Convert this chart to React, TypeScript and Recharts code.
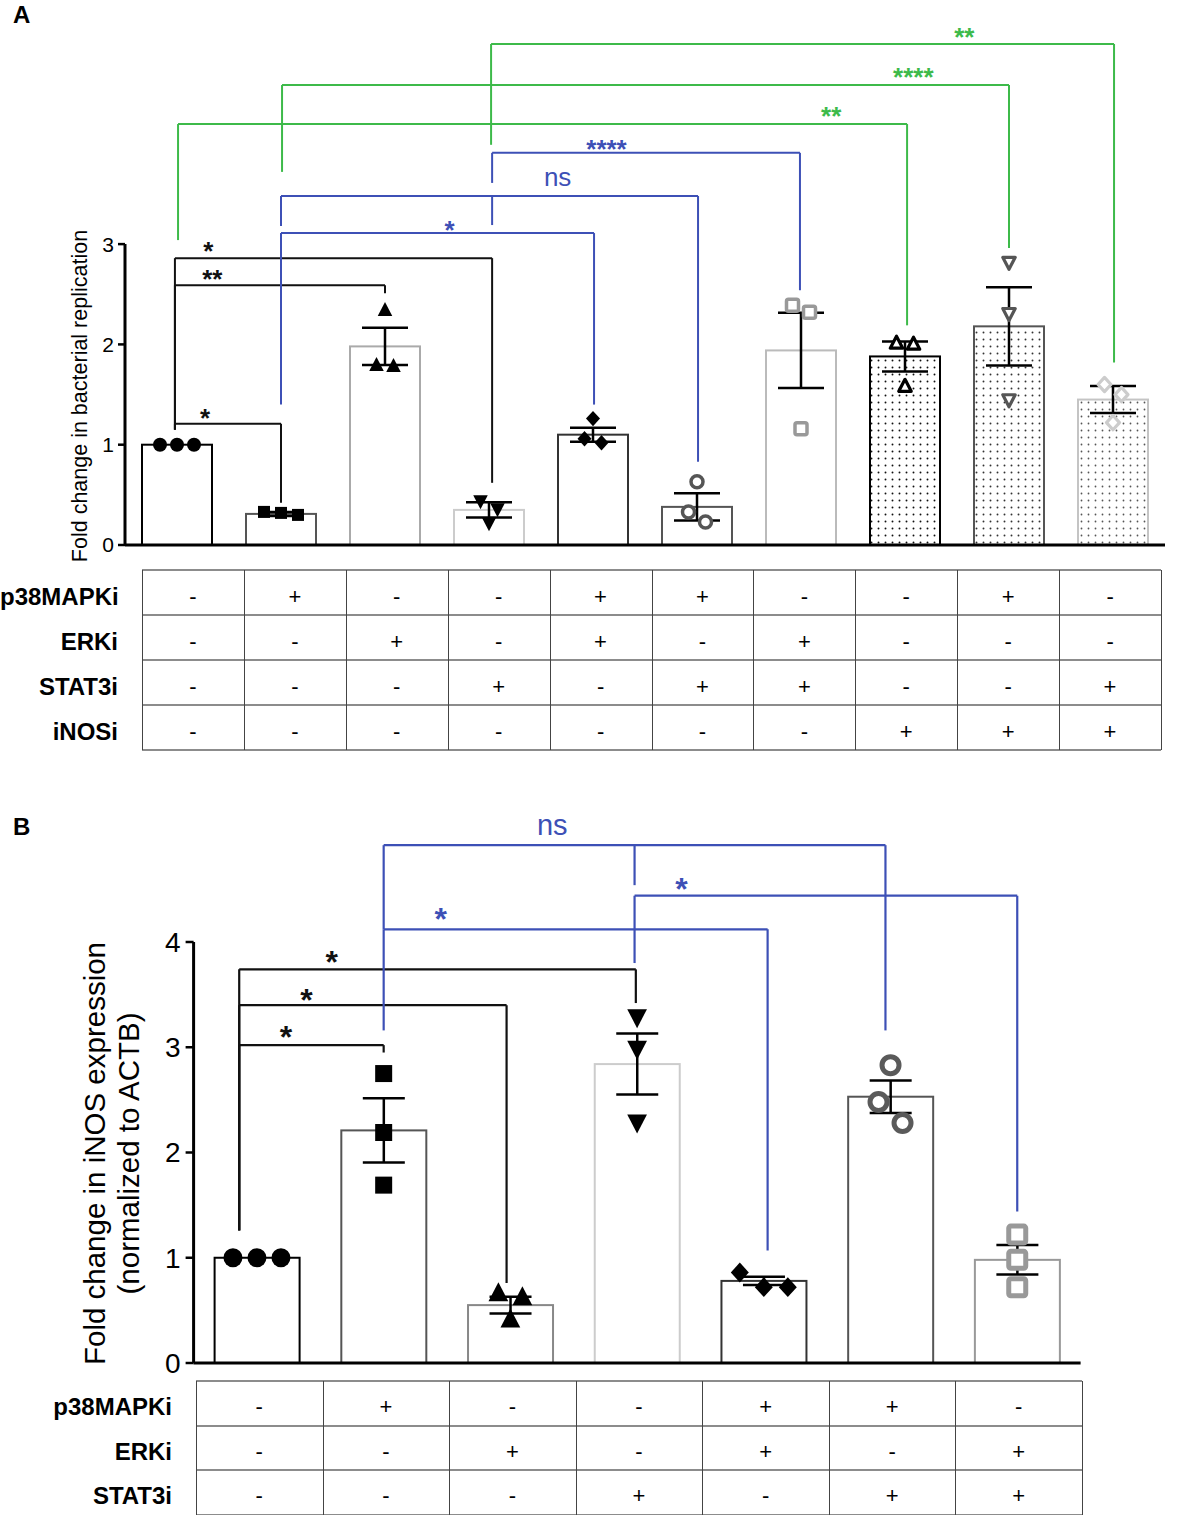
import React from 'react';
import { ComposedChart, Bar, ErrorBar, Scatter, XAxis, YAxis, ReferenceLine, ReferenceDot } from 'recharts';

const FONT = '"Liberation Sans", Arial, Helvetica, sans-serif';
const BLUE = '#3d50b6';
const GREEN = '#3dba4a';
const BLACK = '#111111';

// ---------------- Panel A data ----------------
const groupsA = ['Control', 'p38MAPKi', 'ERKi', 'STAT3i', 'p38MAPKi+ERKi', 'p38MAPKi+STAT3i', 'ERKi+STAT3i', 'iNOSi', 'p38MAPKi+iNOSi', 'STAT3i+iNOSi'];
const meanA = [1.0, 0.31, 1.98, 0.35, 1.10, 0.38, 1.94, 1.88, 2.18, 1.45];
const semA = [0, 0.02, 0.185, 0.075, 0.07, 0.135, 0.375, 0.15, 0.39, 0.135];
const pointsA = [
  [1.0, 1.0, 1.0],
  [0.33, 0.30, 0.32],
  [2.34, 1.78, 1.79],
  [0.44, 0.36, 0.22],
  [1.26, 1.06, 1.02],
  [0.63, 0.33, 0.23],
  [2.39, 2.32, 1.16],
  [2.01, 2.0, 1.58],
  [2.82, 2.31, 1.45],
  [1.60, 1.50, 1.22],
];
const yTicksA = [0, 1, 2, 3];
const treatRowsA = ['p38MAPKi', 'ERKi', 'STAT3i', 'iNOSi'];
const treatA = [
  ['-', '+', '-', '-', '+', '+', '-', '-', '+', '-'],
  ['-', '-', '+', '-', '+', '-', '+', '-', '-', '-'],
  ['-', '-', '-', '+', '-', '+', '+', '-', '-', '+'],
  ['-', '-', '-', '-', '-', '-', '-', '+', '+', '+'],
];
const bracketsA = [
  { x1: -0.02, x2: 1.0, y: 1.21, end1: 1.15, end2: 0.42, color: BLACK, label: '*', lx: 0.27, ly: 1.32 },
  { x1: -0.02, x2: 2.0, y: 2.59, end1: 1.15, end2: 2.51, color: BLACK, label: '**', lx: 0.34, ly: 2.71 },
  { x1: -0.02, x2: 3.03, y: 2.86, end1: 1.15, end2: 0.62, color: BLACK, label: '*', lx: 0.30, ly: 2.99 },
  { x1: 1.0, x2: 4.01, y: 3.11, end1: 1.40, end2: 1.40, color: BLUE, label: '*', lx: 2.62, ly: 3.20 },
  { x1: 1.0, x2: 5.01, y: 3.48, end1: 3.18, end2: 0.83, color: BLUE, label: 'ns', lx: 3.66, ly: 3.65, ticks: [{ x: 3.03, to: 3.19 }] },
  { x1: 3.03, x2: 5.99, y: 3.91, end1: 3.61, end2: 2.54, color: BLUE, label: '****', lx: 4.13, ly: 4.01 },
  { x1: 3.02, x2: 9.01, y: 4.995, end1: 3.99, end2: 1.82, color: GREEN, label: '**', lx: 7.57, ly: 5.12 },
  { x1: 1.01, x2: 8.0, y: 4.586, end1: 3.72, end2: 2.96, color: GREEN, label: '****', lx: 7.08, ly: 4.72 },
  { x1: 0.01, x2: 7.02, y: 4.197, end1: 3.04, end2: 2.19, color: GREEN, label: '**', lx: 6.29, ly: 4.34 },
];

// ---------------- Panel B data ----------------
const groupsB = ['Control', 'p38MAPKi', 'ERKi', 'STAT3i', 'p38MAPKi+ERKi', 'p38MAPKi+STAT3i', 'ERKi+STAT3i'];
const meanB = [1.0, 2.21, 0.55, 2.84, 0.78, 2.53, 0.98];
const semB = [0, 0.305, 0.08, 0.29, 0.04, 0.155, 0.14];
const pointsB = [
  [1.0, 1.0, 1.0],
  [2.75, 2.19, 1.69],
  [0.66, 0.62, 0.41],
  [3.29, 2.99, 2.29],
  [0.86, 0.72, 0.72],
  [2.83, 2.48, 2.28],
  [1.22, 0.98, 0.72],
];
const yTicksB = [0, 1, 2, 3, 4];
const treatRowsB = ['p38MAPKi', 'ERKi', 'STAT3i'];
const treatB = [
  ['-', '+', '-', '-', '+', '+', '-'],
  ['-', '-', '+', '-', '+', '-', '+'],
  ['-', '-', '-', '+', '-', '+', '+'],
];
const bracketsB = [
  { x1: -0.14, x2: 1.0, y: 3.02, end1: 1.26, end2: 2.95, color: BLACK, label: '*', lx: 0.23, ly: 3.17 },
  { x1: -0.14, x2: 1.97, y: 3.40, end1: 1.26, end2: 0.76, color: BLACK, label: '*', lx: 0.39, ly: 3.52 },
  { x1: -0.14, x2: 2.99, y: 3.74, end1: 1.26, end2: 3.42, color: BLACK, label: '*', lx: 0.59, ly: 3.88 },
  { x1: 1.0, x2: 4.03, y: 4.12, end1: 3.16, end2: 1.07, color: BLUE, label: '*', lx: 1.45, ly: 4.29 },
  { x1: 1.0, x2: 4.96, y: 4.92, end1: 4.12, end2: 3.16, color: BLUE, label: 'ns', lx: 2.33, ly: 5.09, ticks: [{ x: 2.98, to: 4.54 }] },
  { x1: 2.98, x2: 6.0, y: 4.44, end1: 3.80, end2: 1.44, color: BLUE, label: '*', lx: 3.35, ly: 4.57 },
];

// ---------------- styles ----------------
const barStrokeA = ['#000', '#555', '#aaa', '#ccc', '#333', '#555', '#bbb', '#000', '#555', '#c4c4c4'];
const barFillA = ['#fff', '#fff', '#fff', '#fff', '#fff', '#fff', '#fff', 'url(#dotsK)', 'url(#dotsD)', 'url(#dotsL)'];
const markersA = [
  { kind: 'circle', hollow: false, color: '#000', size: 14, sw: 0 },
  { kind: 'square', hollow: false, color: '#000', size: 12, sw: 0 },
  { kind: 'up', hollow: false, color: '#000', size: 14, sw: 0 },
  { kind: 'down', hollow: false, color: '#000', size: 14, sw: 0 },
  { kind: 'diamond', hollow: false, color: '#000', size: 14, sw: 0 },
  { kind: 'circle', hollow: true, color: '#555', size: 12, sw: 3.5 },
  { kind: 'square', hollow: true, color: '#999', size: 12, sw: 3.5 },
  { kind: 'up', hollow: true, color: '#000', size: 12, sw: 3.2 },
  { kind: 'down', hollow: true, color: '#555', size: 12, sw: 3.2 },
  { kind: 'diamond', hollow: true, color: '#ccc', size: 13, sw: 3.2 },
];
const barStrokeB = ['#000', '#555', '#888', '#ccc', '#333', '#555', '#999'];
const barFillB = ['#fff', '#fff', '#fff', '#fff', '#fff', '#fff', '#fff'];
const markersB = [
  { kind: 'circle', hollow: false, color: '#000', size: 19, sw: 0 },
  { kind: 'square', hollow: false, color: '#000', size: 17, sw: 0 },
  { kind: 'up', hollow: false, color: '#000', size: 19, sw: 0 },
  { kind: 'down', hollow: false, color: '#000', size: 19, sw: 0 },
  { kind: 'diamond', hollow: false, color: '#000', size: 18, sw: 0 },
  { kind: 'circle', hollow: true, color: '#5a5a5a', size: 17, sw: 5 },
  { kind: 'square', hollow: true, color: '#999', size: 17, sw: 5 },
];

const geoA = {
  top: 0, height: 560, plotLeft: 125, plotRight: 1165, plotBottom: 545, pxPerUnit: 100.3, yMax: 5.2,
  xMin: -0.5, xMax: 9.5, barSize: 70, capHalf: 23, tickFont: 21, tickSizeY: 7, tickMarginY: 4,
  swarmGap: 14, swarmStep: 17, starFont: 26, nsFont: 26, lineW: 2,
};
const geoB = {
  top: 780, height: 600, plotLeft: 193.6, plotRight: 1080.6, plotBottom: 1363, pxPerUnit: 105.25, yMax: 5.3,
  xMin: -0.5, xMax: 6.5, barSize: 85, capHalf: 21, tickFont: 28, tickSizeY: 8, tickMarginY: 5,
  swarmGap: 24, swarmStep: 24, starFont: 32, nsFont: 29, lineW: 2.2,
};

function renderMarker(m: any, cx: number, cy: number) {
  const s = m.size;
  const fill = m.hollow ? '#fff' : m.color;
  const stroke = m.hollow ? m.color : 'none';
  const common = { fill, stroke, strokeWidth: m.sw, strokeLinejoin: 'round' as const };
  if (cx == null || cy == null) return <g />;
  switch (m.kind) {
    case 'circle':
      return <circle cx={cx} cy={cy} r={s / 2} {...common} />;
    case 'square':
      return <rect x={cx - s / 2} y={cy - s / 2} width={s} height={s} rx={m.hollow ? 2 : 0} {...common} />;
    case 'up':
      return <polygon points={`${cx},${cy - s * 0.6} ${cx - s * 0.52},${cy + s * 0.4} ${cx + s * 0.52},${cy + s * 0.4}`} {...common} />;
    case 'down':
      return <polygon points={`${cx},${cy + s * 0.6} ${cx - s * 0.52},${cy - s * 0.4} ${cx + s * 0.52},${cy - s * 0.4}`} {...common} />;
    default:
      return <polygon points={`${cx},${cy - s * 0.55} ${cx + s * 0.5},${cy} ${cx},${cy + s * 0.55} ${cx - s * 0.5},${cy}`} {...common} />;
  }
}

// spread replicate points horizontally when they would overlap (beeswarm-like rows)
function swarm(vals: number[], g: number, geo: any) {
  const pxPerX = (geo.plotRight - geo.plotLeft) / (geo.xMax - geo.xMin);
  const order = vals.map((v, i) => ({ v, i })).sort((a, b) => b.v - a.v);
  const rows: { v: number; i: number }[][] = [];
  for (const p of order) {
    const row = rows[rows.length - 1];
    if (row && (row[0].v - p.v) * geo.pxPerUnit < geo.swarmGap) row.push(p);
    else rows.push([p]);
  }
  const out: { x: number; y: number }[] = [];
  rows.forEach((row) =>
    row.forEach((p, k) => out.push({ x: g + ((k - (row.length - 1) / 2) * geo.swarmStep) / pxPerX, y: p.v }))
  );
  return out;
}

function bracketEls(brs: any[], prefix: string, geo: any) {
  const els: any[] = [];
  brs.forEach((b, i) => {
    const seg = (k: string, a: any, c: any) =>
      els.push(
        <ReferenceLine key={`${prefix}-${i}-${k}`} segment={[a, c]} stroke={b.color} strokeWidth={geo.lineW} ifOverflow="visible" />
      );
    seg('l', { x: b.x1, y: b.end1 }, { x: b.x1, y: b.y });
    seg('t', { x: b.x1, y: b.y }, { x: b.x2, y: b.y });
    seg('r', { x: b.x2, y: b.y }, { x: b.x2, y: b.end2 });
    (b.ticks || []).forEach((t: any, j: number) => seg('m' + j, { x: t.x, y: b.y }, { x: t.x, y: t.to }));
    const isStar = b.label.indexOf('*') >= 0;
    const fs = isStar ? geo.starFont : geo.nsFont;
    const off = isStar ? 0.57 * fs : 0.27 * fs;
    els.push(
      <ReferenceDot
        key={`${prefix}-${i}-lab`}
        x={b.lx}
        y={b.ly}
        r={0}
        ifOverflow="visible"
        shape={(p: any) => (
          <text x={p.cx} y={p.cy + off} textAnchor="middle" fill={b.color} fontSize={fs} fontWeight={isStar ? 700 : 400} fontFamily={FONT}>
            {b.label}
          </text>
        )}
      />
    );
  });
  return els;
}

function Panel(props: any) {
  const { mean, sem, points, brackets, yTicks, geo, barStroke, barFill, markers, prefix, names } = props;
  const barData = mean.map((m: number, i: number) => ({ x: i, name: names[i], mean: m, sem: sem[i] }));
  const yAxisW = 60;
  const marginTop = geo.plotBottom - geo.top - geo.yMax * geo.pxPerUnit;
  const xAxisH = geo.height - (geo.plotBottom - geo.top);
  const xTicks = mean.map((_: number, i: number) => i);
  return (
    <div style={{ position: 'absolute', left: 0, top: geo.top, width: 1181, height: geo.height }}>
      <ComposedChart
        width={1181}
        height={geo.height}
        data={barData}
        margin={{ top: marginTop, right: 1181 - geo.plotRight, bottom: 0, left: geo.plotLeft - yAxisW }}
      >
        <defs>
          <pattern id={`dotsK`} width="7" height="7" patternUnits="userSpaceOnUse">
            <rect width="7" height="7" fill="#fff" />
            <circle cx="3.5" cy="3.5" r="0.95" fill="#111" />
          </pattern>
          <pattern id={`dotsD`} width="7" height="7" patternUnits="userSpaceOnUse">
            <rect width="7" height="7" fill="#fff" />
            <circle cx="3.5" cy="3.5" r="0.95" fill="#333" />
          </pattern>
          <pattern id={`dotsL`} width="7" height="7" patternUnits="userSpaceOnUse">
            <rect width="7" height="7" fill="#fff" />
            <circle cx="3.5" cy="3.5" r="0.9" fill="#555" />
          </pattern>
        </defs>
        <Bar
          dataKey="mean"
          barSize={geo.barSize}
          isAnimationActive={false}
          shape={(p: any) => (
            <rect x={p.x} y={p.y} width={p.width} height={p.height} fill={barFill[p.index]} stroke={barStroke[p.index]} strokeWidth={2} />
          )}
        >
          <ErrorBar dataKey="sem" width={geo.capHalf} strokeWidth={2.5} stroke="#000" direction="y" />
        </Bar>
        {points.map((vals: number[], g: number) => (
          <Scatter
            key={`${prefix}-sc-${g}`}
            xAxisId="pts"
            data={swarm(vals, g, geo)}
            dataKey="y"
            isAnimationActive={false}
            shape={(p: any) => renderMarker(markers[g], p.cx, p.cy)}
          />
        ))}
        {bracketEls(brackets, prefix, geo)}
        <ReferenceLine
          segment={[{ x: geo.xMin, y: 0 }, { x: geo.xMin, y: yTicks[yTicks.length - 1] }]}
          stroke="#000"
          strokeWidth={3}
          ifOverflow="visible"
        />
        <XAxis
          type="number"
          dataKey="x"
          domain={[geo.xMin, geo.xMax]}
          ticks={xTicks}
          tick={false}
          tickLine={{ stroke: '#000', strokeWidth: 2.5 }}
          tickSize={8}
          axisLine={{ stroke: '#000', strokeWidth: 3 }}
          height={xAxisH}
          allowDataOverflow
        />
        <XAxis xAxisId="pts" type="number" dataKey="x" domain={[geo.xMin, geo.xMax]} hide allowDataOverflow />
        <YAxis
          type="number"
          domain={[0, geo.yMax]}
          ticks={yTicks}
          width={yAxisW}
          axisLine={false}
          tickLine={{ stroke: '#000', strokeWidth: 2.5 }}
          tickSize={geo.tickSizeY}
          tickMargin={geo.tickMarginY}
          tick={{ fill: '#000', fontSize: geo.tickFont, fontFamily: FONT }}
          allowDataOverflow
          interval={0}
        />
      </ComposedChart>
    </div>
  );
}

function Table(props: any) {
  const { left, right, top, rowH, labelRight, rows, cells, labelFont, cellFont } = props;
  const ncol = cells[0].length;
  const colW = (right - left) / ncol;
  const els: any[] = [];
  rows.forEach((r: string, ri: number) => {
    const t = top + ri * rowH;
    els.push(
      <div
        key={'l' + ri}
        style={{ position: 'absolute', left: 0, width: labelRight, top: t + 4, height: rowH, lineHeight: rowH + 'px', textAlign: 'right', fontWeight: 700, fontSize: labelFont, fontFamily: FONT, color: '#000', whiteSpace: 'nowrap' }}
      >
        {r}
      </div>
    );
    cells[ri].forEach((c: string, ci: number) =>
      els.push(
        <div
          key={`c${ri}-${ci}`}
          style={{ position: 'absolute', left: left + ci * colW, width: colW, top: t + 4, height: rowH, lineHeight: rowH + 'px', textAlign: 'center', fontSize: cellFont, fontFamily: FONT, color: '#000' }}
        >
          {c}
        </div>
      )
    );
  });
  for (let i = 0; i <= rows.length; i++)
    els.push(<div key={'h' + i} style={{ position: 'absolute', left, width: right - left, top: top + i * rowH - 1, height: 2, background: '#8c8c8c' }} />);
  for (let j = 0; j <= ncol; j++)
    els.push(<div key={'v' + j} style={{ position: 'absolute', left: left + j * colW, top, width: 1, height: rows.length * rowH, background: '#444' }} />);
  return <>{els}</>;
}

function VLabel(props: any) {
  const { cx, cy, text, fs } = props;
  const w = 700;
  const h = Math.round(fs * 1.2);
  return (
    <div
      style={{ position: 'absolute', left: cx - w / 2, top: cy - h / 2, width: w, height: h, lineHeight: h + 'px', textAlign: 'center', fontSize: fs, fontFamily: FONT, transform: 'rotate(-90deg)', whiteSpace: 'nowrap', color: '#000' }}
    >
      {text}
    </div>
  );
}

export default function App() {
  return (
    <div style={{ position: 'absolute', left: 0, top: 0, width: 1181, height: 1515, overflow: 'hidden', background: '#fff' }}>
      <div style={{ position: 'absolute', left: 13, top: 3, fontSize: 24, fontWeight: 700, fontFamily: FONT, lineHeight: 1 }}>A</div>
      <div style={{ position: 'absolute', left: 13, top: 815, fontSize: 24, fontWeight: 700, fontFamily: FONT, lineHeight: 1 }}>B</div>

      <Panel
        prefix="A"
        names={groupsA}
        mean={meanA}
        sem={semA}
        points={pointsA}
        brackets={bracketsA}
        yTicks={yTicksA}
        geo={geoA}
        barStroke={barStrokeA}
        barFill={barFillA}
        markers={markersA}
      />
      <VLabel cx={80} cy={396} fs={21.5} text="Fold change in bacterial replication" />
      <Table left={142} right={1161} top={570} rowH={45} labelRight={118} rows={treatRowsA} cells={treatA} labelFont={24} cellFont={22} />

      <Panel
        prefix="B"
        names={groupsB}
        mean={meanB}
        sem={semB}
        points={pointsB}
        brackets={bracketsB}
        yTicks={yTicksB}
        geo={geoB}
        barStroke={barStrokeB}
        barFill={barFillB}
        markers={markersB}
      />
      <VLabel cx={94} cy={1153} fs={29.5} text="Fold change in iNOS expression" />
      <VLabel cx={128} cy={1153} fs={29.5} text="(normalized to ACTB)" />
      <Table left={196} right={1082} top={1381} rowH={44.7} labelRight={172} rows={treatRowsB} cells={treatB} labelFont={24} cellFont={22} />
    </div>
  );
}
